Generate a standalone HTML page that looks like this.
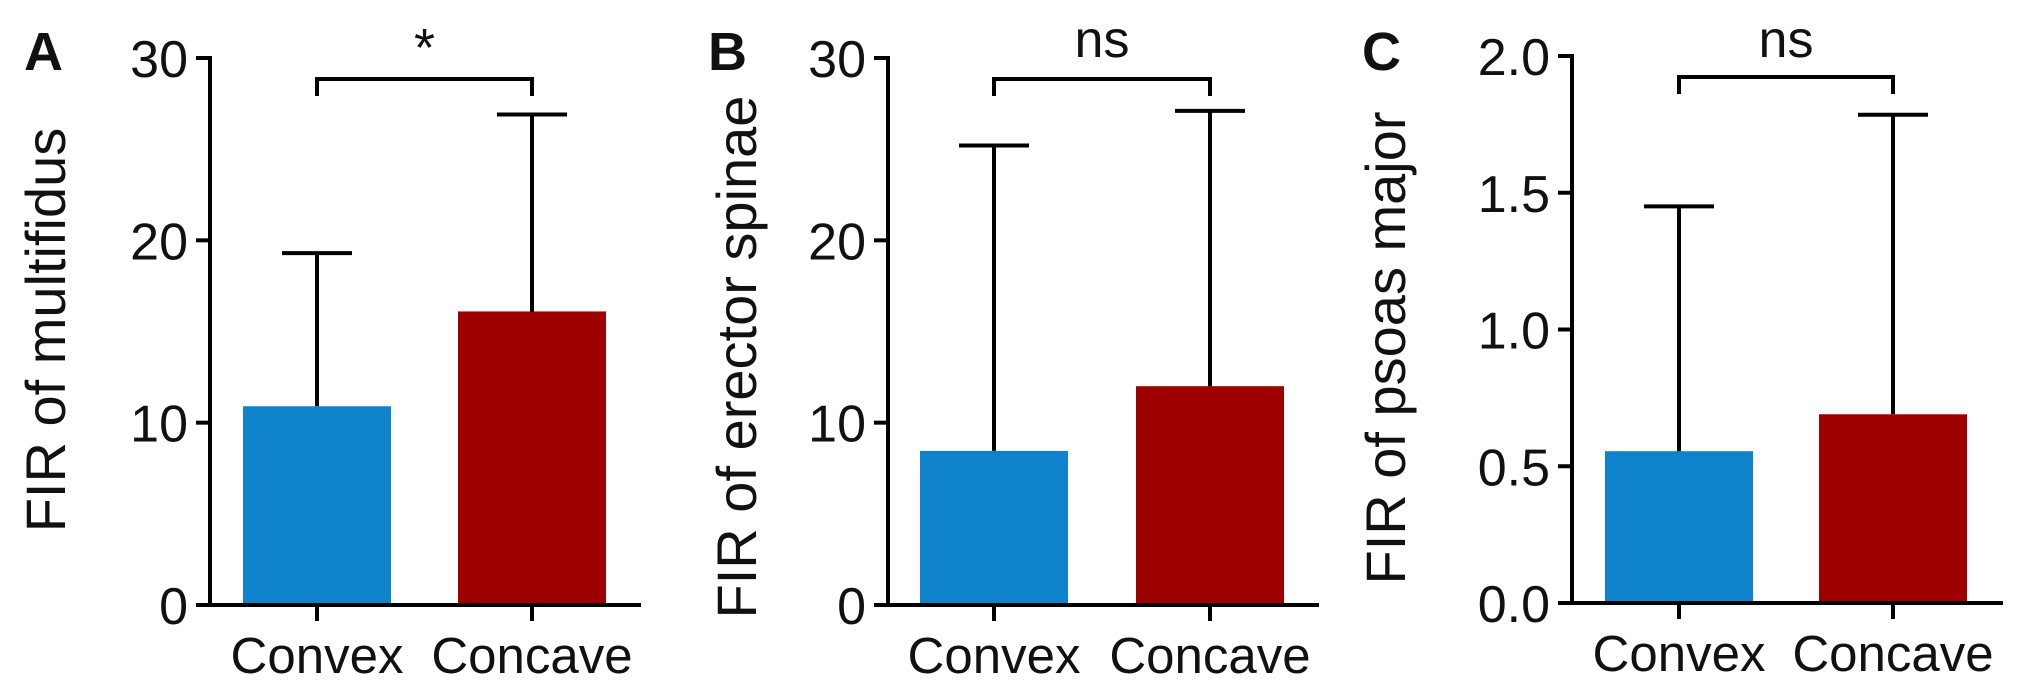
<!DOCTYPE html>
<html><head><meta charset="utf-8"><style>
html,body{margin:0;padding:0;background:#fff;width:2031px;height:700px;overflow:hidden}
svg text{font-family:"Liberation Sans",Arial,sans-serif;fill:#111}
</style></head><body>
<svg id="fig" width="2031" height="700" viewBox="0 0 2031 700" xmlns="http://www.w3.org/2000/svg"></svg>
<script>
const categories = ["Convex", "Concave"];
const panelLetters = ["A", "B", "C"];
const yTitles = ["FIR of  multifidus", "FIR of erector spinae", "FIR of psoas major"];
const meansA = [10.9, 16.1];
const errA = [19.3, 26.9];
const meansB = [8.45, 12.0];
const errB = [25.2, 27.1];
const meansC = [0.555, 0.69];
const errC = [1.45, 1.785];
const ticksA = [0, 10, 20, 30];
const ticksB = [0, 10, 20, 30];
const ticksC = [0, 0.5, 1.0, 1.5, 2.0];
const tickLabelsA = ["0", "10", "20", "30"];
const tickLabelsB = ["0", "10", "20", "30"];
const tickLabelsC = ["0.0", "0.5", "1.0", "1.5", "2.0"];
const sigLabels = ["*", "ns", "ns"];
const colors = ["#0f82cc", "#9e0000"];

const NS = "http://www.w3.org/2000/svg";
const svg = document.getElementById("fig");
function mk(tag, attrs, parent) {
  const e = document.createElementNS(NS, tag);
  for (const k in attrs) e.setAttribute(k, attrs[k]);
  (parent || svg).appendChild(e);
  return e;
}

const panels = [
  {ax: 210, axEnd: 641, top: 58, zero: 605, yMax: 30, centers: [317, 532], barW: 148, means: meansA, errs: errA, ticks: ticksA, labels: tickLabelsA, lx: 45, ly: 330, letterX: 24},
  {ax: 888, axEnd: 1319, top: 58, zero: 605, yMax: 30, centers: [994, 1210], barW: 148, means: meansB, errs: errB, ticks: ticksB, labels: tickLabelsB, lx: 736, ly: 357, letterX: 708},
  {ax: 1572, axEnd: 2003, top: 56, zero: 603, yMax: 2, centers: [1679, 1893], barW: 148, means: meansC, errs: errC, ticks: ticksC, labels: tickLabelsC, lx: 1385, ly: 348, letterX: 1362}
];

panels.forEach((p, i) => {
  const g = mk("g", {});
  
  
  const y = v => p.zero - (v / p.yMax) * (p.zero - p.top);

  const letter = mk("text", {x: p.letterX, y: 70, "font-size": 54, "font-weight": "bold"}, g);
  letter.textContent = panelLetters[i];
  
  

  const yt = mk("text", {x: 0, y: 0, "font-size": 56, "text-anchor": "middle", transform: `translate(${p.lx + 20},${p.ly}) rotate(-90)`, "xml:space": "preserve"}, g);
  yt.textContent = yTitles[i];
  
  

  p.means.forEach((m, j) => {
    const cx = p.centers[j];
    const b = mk("rect", {x: cx - p.barW / 2, y: y(m), width: p.barW, height: p.zero - y(m), fill: colors[j]}, g);
    
    
    const e = mk("path", {d: `M${cx},${y(m)}V${y(p.errs[j])}M${cx - 35},${y(p.errs[j])}H${cx + 35}`, stroke: "#000", "stroke-width": 4, fill: "none"}, g);
    
    
    const xl = mk("text", {x: cx, y: p.zero + 68, "font-size": 51, "text-anchor": "middle"}, g);
    xl.textContent = categories[j];
    
    
    const xt = mk("line", {x1: cx, x2: cx, y1: p.zero, y2: p.zero + 16, stroke: "#000", "stroke-width": 4}, g);
    
    
  });

  const yax = mk("line", {x1: p.ax, x2: p.ax, y1: p.top - 2, y2: p.zero + 2, stroke: "#000", "stroke-width": 4}, g);
  
  
  const xax = mk("line", {x1: p.ax - 14, x2: p.axEnd, y1: p.zero, y2: p.zero, stroke: "#000", "stroke-width": 4}, g);
  
  

  p.ticks.forEach((t, k) => {
    const tl = mk("line", {x1: p.ax - 14, x2: p.ax, y1: y(t), y2: y(t), stroke: "#000", "stroke-width": 4}, g);
    
    
    const tx = mk("text", {x: p.ax - 22, y: y(t) + 19, "font-size": 52, "text-anchor": "end"}, g);
    tx.textContent = p.labels[k];
    
    
  });

  const c0 = p.centers[0], c1 = p.centers[1];
  const br = mk("path", {d: `M${c0},${p.top + 38}V${p.top + 21}H${c1}V${p.top + 38}`, stroke: "#000", "stroke-width": 4, fill: "none"}, g);
  
  
  const sl = mk("text", {x: (c0 + c1) / 2, y: sigLabels[i] === "*" ? 66 : 57, "font-size": sigLabels[i] === "*" ? 54 : 52, "text-anchor": "middle"}, g);
  sl.textContent = sigLabels[i];
  
  
});
</script>
</body></html>
